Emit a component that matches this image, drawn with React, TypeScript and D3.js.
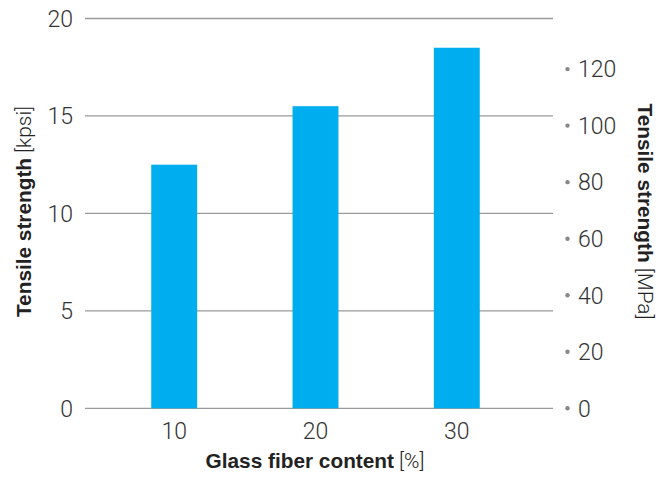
import React from "react";
import * as d3 from "d3";

const categories = ["10", "20", "30"];
const kpsiValues = [12.5, 15.5, 18.5];
const leftTicks = [0, 5, 10, 15, 20];
const rightTicks = [0, 20, 40, 60, 80, 100, 120];
const xTitle = "Glass fiber content";
const xUnit = "[%]";
const leftTitle = "Tensile strength";
const leftUnit = "[kpsi]";
const rightTitle = "Tensile strength";
const rightUnit = "[MPa]";
const MPA_PER_KPSI = 6.894757;

export default function App() {
  const W = 670, H = 478;
  const y = d3.scaleLinear().domain([0, 20]).range([408.3, 18.5]);
  const yM = d3.scaleLinear().domain([0, 20 * MPA_PER_KPSI]).range([408.3, 18.5]);
  const x = d3.scaleBand().domain(categories).range([82, 549]).paddingInner(0.675).paddingOuter(0.49);
  const light = "Roboto, 'Liberation Sans', Arial, sans-serif";
  const sans = "'Liberation Sans', Arial, sans-serif";
  const textColor = "#333";
  return (
    <svg width={W} height={H} style={{ position: "absolute", left: 0, top: 0 }}>
      <rect width={W} height={H} fill="#fff" />
      {leftTicks.map((t) => (
        <g key={t}>
          <line x1={85} x2={553} y1={y(t)} y2={y(t)} stroke="#9a9a9a" strokeWidth={1.3} />
          <text x={73} y={y(t)} dy="0.36em" textAnchor="end" fontFamily={light} fontWeight={300} fontSize={23} fill={textColor}>{t}</text>
        </g>
      ))}
      {categories.map((c, i) => (
        <rect key={c} x={x(c)} width={x.bandwidth()} y={y(kpsiValues[i])} height={y(0) - y(kpsiValues[i])} fill="#00AEEF" />
      ))}
      {categories.map((c) => (
        <text key={c} x={(x(c) as number) + x.bandwidth() / 2} y={438.5} textAnchor="middle" fontFamily={light} fontWeight={300} fontSize={23} fill={textColor}>{c}</text>
      ))}
      {rightTicks.map((t) => (
        <g key={t}>
          <circle cx={567.5} cy={yM(t)} r={2.2} fill="#888" />
          <text x={578} y={yM(t)} dy="0.36em" fontFamily={light} fontWeight={300} fontSize={23} fill={textColor}>{t}</text>
        </g>
      ))}
      <text x={315} y={468} textAnchor="middle" fontFamily={sans} fontSize={20.8} fill="#222">
        <tspan fontWeight="bold">{xTitle}</tspan>
        <tspan fontFamily={light} fontWeight={300}> {xUnit}</tspan>
      </text>
      <text transform={`translate(31,211.5) rotate(-90)`} textAnchor="middle" fontFamily={sans} fontSize={20.8} fill="#222">
        <tspan fontWeight="bold">{leftTitle}</tspan>
        <tspan fontFamily={light} fontWeight={300}> {leftUnit}</tspan>
      </text>
      <text transform={`translate(638,211.5) rotate(90)`} textAnchor="middle" fontFamily={sans} fontSize={20.8} fill="#222">
        <tspan fontWeight="bold">{rightTitle}</tspan>
        <tspan fontFamily={light} fontWeight={300}> {rightUnit}</tspan>
      </text>
    </svg>
  );
}
